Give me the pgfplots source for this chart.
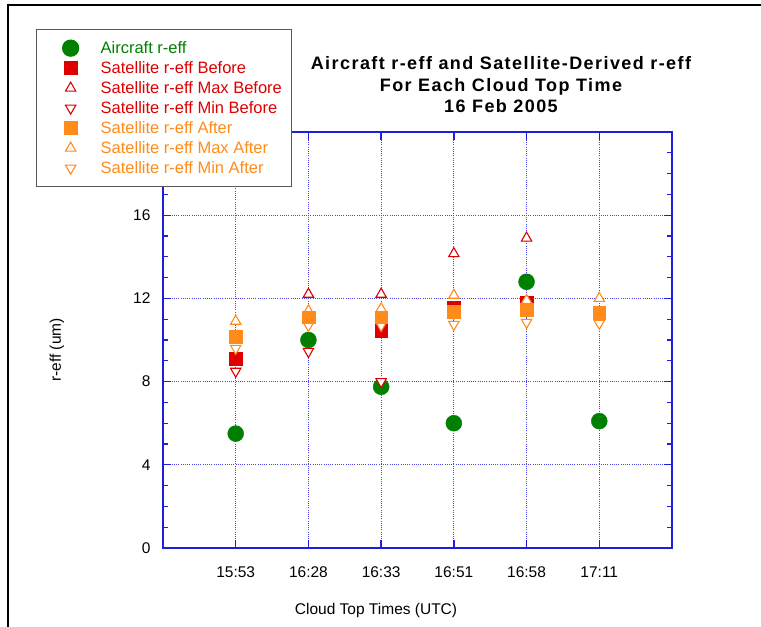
\documentclass[border=0pt]{standalone}
\usepackage{fontspec}
\setmainfont{Liberation Sans}
\usepackage{pgfplots}
\pgfplotsset{compat=1.18}
\definecolor{cgreen}{RGB}{0,128,0}
\definecolor{cred}{RGB}{222,0,0}
\definecolor{corange}{RGB}{255,140,26}
\definecolor{caxis}{RGB}{30,30,220}
\definecolor{cgrid}{RGB}{70,70,235}
\pgfplotsset{
  greenst/.style={only marks, mark=*, mark size=8pt, color=cgreen},
  redsq/.style={only marks, mark=square*, mark size=6.3pt, color=cred},
  orgsq/.style={only marks, mark=square*, mark size=6.3pt, color=corange},
  redmax/.style={only marks, mark=triangle*, mark size=6pt, color=cred, mark options={fill=white, draw=cred, line width=1.1pt}},
  redmin/.style={only marks, mark=triangle*, mark size=6pt, color=cred, mark options={fill=white, draw=cred, line width=1.1pt, rotate=180}},
  orgmax/.style={only marks, mark=triangle*, mark size=6pt, color=corange, mark options={fill=white, draw=corange, line width=1.1pt}},
  orgmin/.style={only marks, mark=triangle*, mark size=6pt, color=corange, mark options={fill=white, draw=corange, line width=1.1pt, rotate=180}},
}
\begin{document}
\begin{tikzpicture}
\useasboundingbox (0pt,0pt) rectangle (761pt,-627pt);
\fill[white] (0pt,0pt) rectangle (761pt,-627pt);
\draw[line width=2.5pt] (8pt,-627pt) -- (8pt,-5pt) -- (761pt,-5pt);
\begin{axis}[
  at={(163pt,-548pt)}, anchor=south west,
  scale only axis, width=509pt, height=416pt,
  xmin=0, xmax=7, ymin=0, ymax=20,
  xtick={1,2,3,4,5,6},
  xticklabels={15:53,16:28,16:33,16:51,\raisebox{2pt}{16:58},17:11},
  ytick={0,4,8,12,16},
  minor ytick={1,2,3,5,6,7,9,10,11,13,14,15,17,18,19},
  tick align=inside, major tick length=8pt, minor tick length=5pt,
  axis line style={draw=caxis, line width=1.5pt},
  tick style={draw=caxis, line width=1.3pt},
  minor tick style={draw=caxis, line width=1.3pt},
  grid=major, major grid style={draw=cgrid, dash pattern=on 1pt off 1.2pt, line width=1pt},
  ticklabel style={font=\fontsize{15.5}{18}\selectfont, text=black},
  /pgf/number format/assume math mode=true,
  yticklabel style={xshift=-9pt},
  xticklabel style={yshift=-15pt},
  title={Aircraft r-eff and Satellite-Derived r-eff\\For Each Cloud Top Time\\16 Feb 2005},
  title style={at={(axis description cs:0.664,1.0986)}, anchor=center, align=center, font=\bfseries\fontsize{18}{21.5}\selectfont\addfontfeature{LetterSpace=8}},
  ylabel={r-eff (um)},
  ylabel style={at={(axis description cs:-0.2083,0.476)}, anchor=center, font=\fontsize{15.5}{18}\selectfont},
  xlabel={Cloud Top Times (UTC)},
  xlabel style={at={(axis description cs:0.4185,-0.149)}, anchor=center, font=\fontsize{15.5}{18}\selectfont},
  legend style={at={(axis description cs:-0.2495,1.2476)}, anchor=north west,
    draw=black!65, line width=1.3pt, fill=white,
    inner xsep=5pt, inner ysep=13pt, row sep=9pt,
    font=\fontsize{16.5}{18}\selectfont,
    nodes={text height=11pt, text depth=0pt, inner ysep=0pt, inner xsep=4.7pt},
    /tikz/every odd column/.append style={column sep=15.3pt}},
  legend cell align=left,
  legend image code/.code={\path[draw=none,fill=none] (0pt,-3pt) rectangle (39pt,3pt); \draw[#1, overlay] plot coordinates {(29pt,0pt)};},
]
\addlegendimage{greenst}
\addlegendentry{\textcolor{cgreen}{Aircraft r-eff}}
\addlegendimage{redsq}
\addlegendentry{\textcolor{cred}{Satellite r-eff Before}}
\addlegendimage{redmax}
\addlegendentry{\textcolor{cred}{Satellite r-eff Max Before}}
\addlegendimage{redmin}
\addlegendentry{\textcolor{cred}{Satellite r-eff Min Before}}
\addlegendimage{orgsq}
\addlegendentry{\textcolor{corange}{Satellite r-eff After}}
\addlegendimage{orgmax}
\addlegendentry{\textcolor{corange}{Satellite r-eff Max After}}
\addlegendimage{orgmin}
\addlegendentry{\textcolor{corange}{Satellite r-eff Min After}}

% Aircraft r-eff
\addplot[greenst, forget plot] coordinates {(1,5.5) (2,10.0) (3,7.75) (4,6.0) (5,12.8) (6,6.1)};
% Satellite r-eff Before
\addplot[redsq, forget plot] coordinates {(1,9.1) (2,11.1) (3,10.45) (4,11.55) (5,11.8)};
% Satellite r-eff Max Before
\addplot[redmax, forget plot] coordinates {(1,10.15) (2,12.2) (3,12.2) (4,14.15) (5,14.9)};
% Satellite r-eff Min Before
\addplot[redmin, forget plot] coordinates {(1,8.5) (2,9.45) (3,8.0) (4,11.3) (5,11.4)};
% Satellite r-eff Max After
\addplot[orgmax, forget plot] coordinates {(1,10.9) (2,11.4) (3,11.5) (4,12.15) (5,11.9) (6,12.0)};
% Satellite r-eff Min After
\addplot[orgmin, forget plot] coordinates {(1,9.6) (2,10.7) (3,10.7) (4,10.75) (5,10.85) (6,10.8)};
% Satellite r-eff After
\addplot[orgsq, forget plot] coordinates {(1,10.15) (2,11.1) (3,11.1) (4,11.35) (5,11.45) (6,11.3)};
\end{axis}
\end{tikzpicture}
\end{document}
